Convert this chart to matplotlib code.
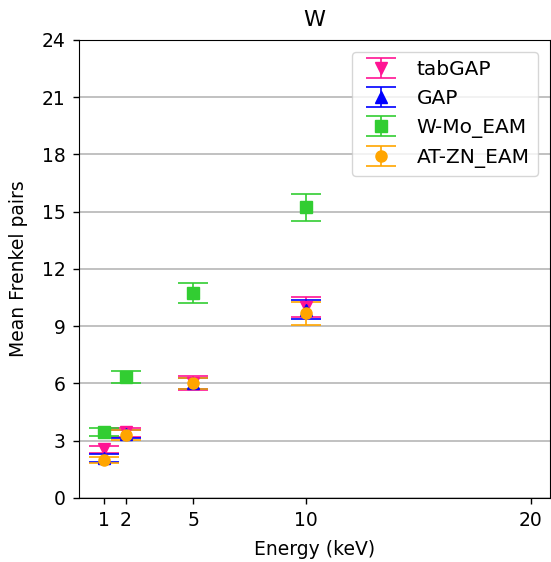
import matplotlib
matplotlib.use("Agg")
import matplotlib.pyplot as plt
import numpy as np

energies = [1, 2, 5, 10]

tabgap_mean = [2.55, 3.45, 6.0, 10.0]
tabgap_err = [0.18, 0.24, 0.37, 0.52]
gap_mean = [2.1, 3.35, 6.0, 9.85]
gap_err = [0.22, 0.2, 0.3, 0.5]
wmo_mean = [3.45, 6.35, 10.72, 15.23]
wmo_err = [0.23, 0.31, 0.52, 0.7]
atzn_mean = [2.0, 3.3, 6.0, 9.68]
atzn_err = [0.17, 0.24, 0.3, 0.6]

series = [
    ("tabGAP", tabgap_mean, tabgap_err, "v", "#ff1493"),
    ("GAP", gap_mean, gap_err, "^", "blue"),
    ("W-Mo_EAM", wmo_mean, wmo_err, "s", "limegreen"),
    ("AT-ZN_EAM", atzn_mean, atzn_err, "o", "orange"),
]

xticks = [1, 2, 5, 10, 20]
yticks = np.arange(0, 25, 3)

plt.rcParams['font.size'] = 13.5
fig, ax = plt.subplots(figsize=(5.51, 5.62), dpi=100)

for label, mean, err, marker, color in series:
    ax.errorbar(energies, mean, yerr=err, fmt=marker, color=color,
                markersize=8, capsize=11, elinewidth=1.2, capthick=1.2,
                label=label)

ax.set_xticks(xticks)
ax.set_yticks(yticks)
ax.set_xlim(-0.1, 20.85)
ax.set_ylim(0, 24)
ax.tick_params(length=4.5, width=1, pad=5)
ax.yaxis.grid(True, color="#b0b0b0", linewidth=1.1)
ax.set_axisbelow(True)
ax.set_xlabel("Energy (keV)", labelpad=7)
ax.set_ylabel("Mean Frenkel pairs", labelpad=10)
ax.set_title("W", fontsize=16, pad=10)
ax.legend(loc="upper right", fontsize=14.5, borderaxespad=0.6)

fig.subplots_adjust(left=0.143, right=0.998, top=0.929, bottom=0.114)
fig.savefig("out.png", dpi=100)
